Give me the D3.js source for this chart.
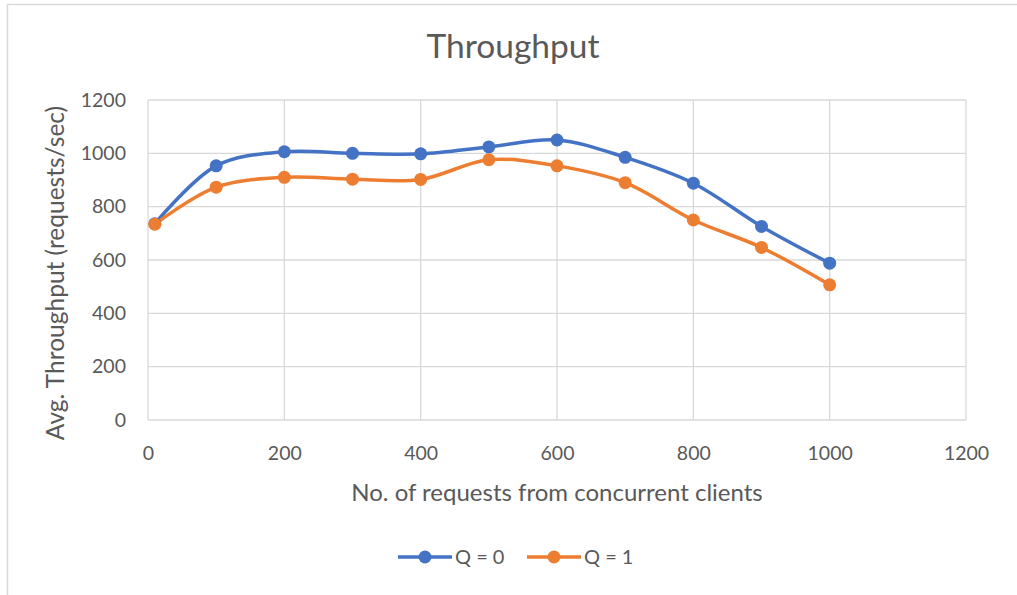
<!DOCTYPE html>
<html>
<head>
<meta charset="utf-8">
<script src="https://cdn.jsdelivr.net/npm/d3@7"></script>
<style>
  html, body { margin: 0; padding: 0; background: #fff; }
  svg { display: block; }
  text { font-family: Lato, "Open Sans", sans-serif; fill: #595959; }
</style>
</head>
<body>
<svg id="chart" width="1017" height="595"></svg>
<script>
const clients = [10, 100, 200, 300, 400, 500, 600, 700, 800, 900, 1000];
const q0 = [736, 953, 1006, 1000, 998, 1024, 1050, 985, 888, 726, 588];
const q1 = [734, 873, 910, 903, 902, 976, 953, 890, 750, 647, 507];
const seriesNames = ["Q = 0", "Q = 1"];
const seriesColors = ["#4472C4", "#ED7D31"];
const xTicks = [0, 200, 400, 600, 800, 1000, 1200];
const yTicks = [0, 200, 400, 600, 800, 1000, 1200];
const titleText = "Throughput";
const xTitle = "No. of requests from concurrent clients";
const yTitle = "Avg. Throughput (requests/sec)";

const svg = d3.select("#chart");
const W = 1017, H = 595;
const m = { left: 148, right: 966, top: 100, bottom: 420 };

// outer chart border
svg.append("rect").attr("x", 7.5).attr("y", 4.5).attr("width", W + 20).attr("height", H + 20)
  .attr("fill", "#fff").attr("stroke", "#d9d9d9").attr("stroke-width", 1.5);

const x = d3.scaleLinear().domain([0, 1200]).range([m.left, m.right]);
const y = d3.scaleLinear().domain([0, 1200]).range([m.bottom, m.top]);

// gridlines
const grid = svg.append("g");
grid.selectAll("line.h").data(yTicks).join("line")
  .attr("x1", m.left).attr("x2", m.right)
  .attr("y1", d => y(d)).attr("y2", d => y(d))
  .attr("stroke", "#d9d9d9").attr("stroke-width", 1.3);
grid.selectAll("line.v").data(xTicks).join("line")
  .attr("y1", m.top).attr("y2", m.bottom)
  .attr("x1", d => x(d)).attr("x2", d => x(d))
  .attr("stroke", "#d9d9d9").attr("stroke-width", 1.3);

// axes (labels only)
const yAxis = svg.append("g").attr("transform", `translate(${m.left},0)`)
  .call(d3.axisLeft(y).tickValues(yTicks).tickSize(0).tickPadding(22).tickFormat(d3.format("d")));
const xAxis = svg.append("g").attr("transform", `translate(0,${m.bottom})`)
  .call(d3.axisBottom(x).tickValues(xTicks).tickSize(0).tickPadding(26).tickFormat(d3.format("d")));
[yAxis, xAxis].forEach(a => {
  a.select(".domain").remove();
  a.selectAll("text").attr("font-size", 19.5).attr("font-family", "Lato").attr("fill", "#595959");
});

// lines
const data = [q0, q1];
const line = d3.line().x((d, i) => x(clients[i])).y(d => y(d)).curve(d3.curveCatmullRom.alpha(0.5));
data.forEach((s, k) => {
  svg.append("path").datum(s).attr("d", line).attr("fill", "none")
    .attr("stroke", seriesColors[k]).attr("stroke-width", 3.5).attr("stroke-linejoin", "round");
});
data.forEach((s, k) => {
  svg.append("g").selectAll("circle").data(s).join("circle")
    .attr("cx", (d, i) => x(clients[i])).attr("cy", d => y(d)).attr("r", 6.5)
    .attr("fill", seriesColors[k]);
});

// titles
svg.append("text").attr("x", 513).attr("y", 58).attr("text-anchor", "middle")
  .attr("font-size", 33.5).text(titleText);
svg.append("text").attr("x", (m.left + m.right) / 2).attr("y", 501).attr("text-anchor", "middle")
  .attr("font-size", 24).text(xTitle);
svg.append("text").attr("transform", `translate(64,273) rotate(-90)`)
  .attr("text-anchor", "middle").attr("font-size", 24.5).text(yTitle);

// legend
const legX = [398, 527];
seriesNames.forEach((name, k) => {
  const g = svg.append("g").attr("transform", `translate(${legX[k]},557)`);
  g.append("line").attr("x1", 0).attr("x2", 54).attr("y1", 0).attr("y2", 0)
    .attr("stroke", seriesColors[k]).attr("stroke-width", 3.5);
  g.append("circle").attr("cx", 27).attr("cy", 0).attr("r", 6.5).attr("fill", seriesColors[k]);
  g.append("text").attr("x", 57).attr("y", 7).attr("font-size", 20).text(name);
});
</script>
</body>
</html>
